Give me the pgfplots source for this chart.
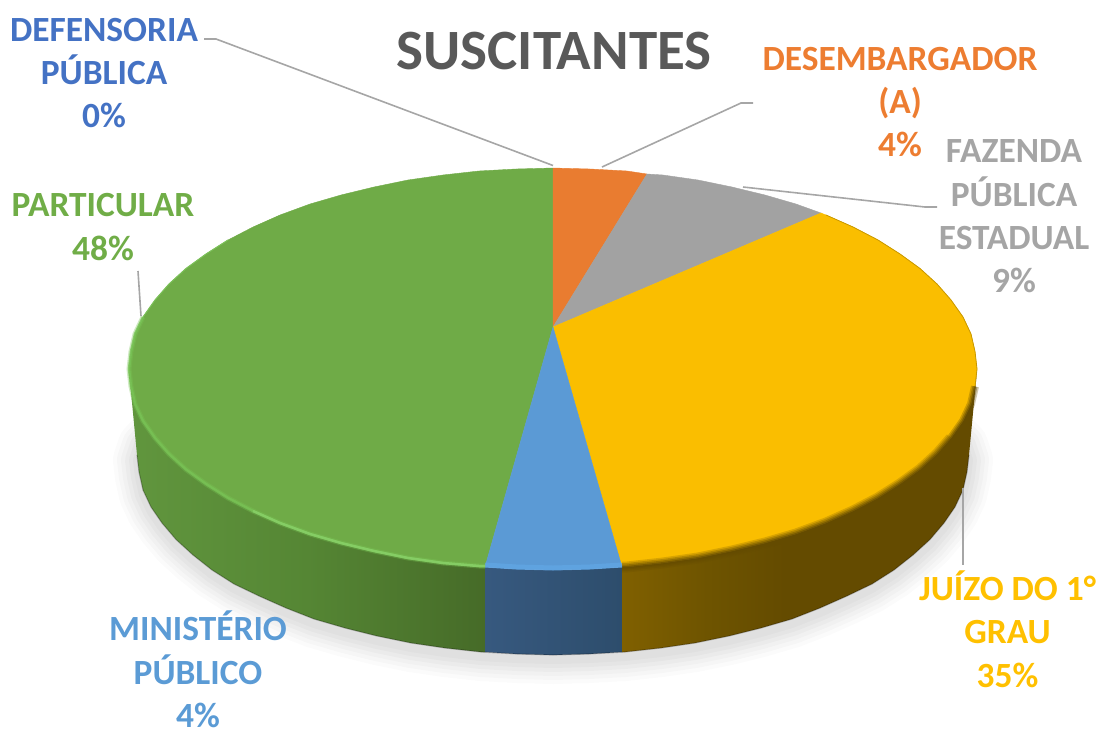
\documentclass[border=0pt]{standalone}
\usepackage{pgfplots}
\pgfplotsset{compat=1.18}
\usepackage{fontspec}
\setmainfont{Carlito}
\definecolor{cDef}{HTML}{4472C4}
\definecolor{cOra}{HTML}{ED7D31}
\definecolor{cGra}{HTML}{A5A5A5}
\definecolor{cYel}{HTML}{FFC000}
\definecolor{cBlu}{HTML}{5B9BD5}
\definecolor{cGre}{HTML}{70AD47}
\definecolor{sOra}{HTML}{E97C30}
\definecolor{sGra}{HTML}{A2A2A2}
\definecolor{sYel}{HTML}{FABE00}
\definecolor{sBlu}{HTML}{5B9AD5}
\definecolor{sGre}{HTML}{6FAB47}
\definecolor{cTit}{HTML}{595959}
\definecolor{cLead}{HTML}{A6A6A6}
\definecolor{bYel}{RGB}{100,75,0}
\definecolor{bBlu}{RGB}{98,168,230}
\definecolor{bGre}{RGB}{120,195,85}
\definecolor{bGr2}{RGB}{140,212,108}
\definecolor{bGr3}{RGB}{124,194,90}
\definecolor{g1}{RGB}{97,150,62}
\definecolor{g2}{RGB}{85,134,52}
\definecolor{g3}{RGB}{70,107,40}
\definecolor{b1}{RGB}{55,89,127}
\definecolor{b2}{RGB}{45,77,108}
\definecolor{y1}{RGB}{128,96,0}
\definecolor{y2}{RGB}{110,84,0}
\definecolor{y3}{RGB}{100,75,0}
\pgfdeclarehorizontalshading{rimg}{100bp}{color(0bp)=(g1);color(25bp)=(g1);color(50bp)=(g2);color(75bp)=(g3);color(100bp)=(g3)}
\pgfdeclarehorizontalshading{rimb}{100bp}{color(0bp)=(b1);color(25bp)=(b1);color(75bp)=(b2);color(100bp)=(b2)}
\pgfdeclarehorizontalshading{rimy}{100bp}{color(0bp)=(y1);color(25bp)=(y1);color(37bp)=(y2);color(48bp)=(y3);color(100bp)=(y3)}
% lower arc of the base of the disc, with the ends tucked under it
\pgfplotstableread{
x y
175 405
142 440
137 455
139 472
143 490
151 507
162 523
176 539.5
193 555
212 570
234 584
259 596
286 608
314 619
345 628
377 636
411 643
445 648
481 652
517 654
553 655
589 654
625 652
661 648
695 643
729 636
761 628
792 619
820 608
847 596
872 584
894 570
913 555
930 539.5
944 523
955 507
963 490
967 472
969 455
964 440
930 405
}\shadowarc
\pgfplotstableread{
x y
137 455
139 472
143 490
151 507
162 523
176 539.5
193 555
212 570
234 584
259 596
286 608
314 619
345 628
377 636
411 643
445 648
481 652
517 654
553 655
589 654
625 652
661 648
695 643
729 636
761 628
792 619
820 608
847 596
872 584
894 570
913 555
930 539.5
944 523
955 507
963 490
967 472
969 455
}\basearc
\pgfplotstableread{
x y
975 386.5
971 404
963 421
951 438
937 454
920 469.5
900 484
878 498
853 511
826 523
796 534
765 543
732 551
698 558
663 563
627 567
622 567
}\yelarc
\pgfplotstableread{
x y
951 438
937 454
920 469.5
900 484
878 498
853 511
826 523
796 534
765 543
732 551
698 558
663 563
627 567
622 567
}\yelarcb
\pgfplotstableread{
x y
143 317
135 334
131 351.5
129 369
131 386.5
135 404
143 421
155 438
169 454
186 469.5
206 484
228 498
253 511
280 523
310 534
341 543
374 551
408 558
443 563
479 566
485 566
}\grearc
\pgfplotstableread{
x y
253 511
280 523
310 534
341 543
374 551
408 558
443 563
479 566
485 566
}\grearcb
\begin{document}
\begin{tikzpicture}
\begin{axis}[
  width=1098pt,height=729pt,scale only axis,
  xmin=0,xmax=1098,ymin=0,ymax=729,y dir=reverse,
  hide axis,clip=false,
  every axis plot/.append style={no markers},
]
% soft shadow
\addplot[draw=black,opacity=0.016,line width=48pt,line join=round,yshift=-5pt] table {\shadowarc};
\addplot[draw=black,opacity=0.018,line width=40pt,line join=round,yshift=-5pt] table {\shadowarc};
\addplot[draw=black,opacity=0.02,line width=32pt,line join=round,yshift=-5pt] table {\shadowarc};
\addplot[draw=black,opacity=0.022,line width=24pt,line join=round,yshift=-5pt] table {\shadowarc};
\addplot[draw=black,opacity=0.022,line width=16pt,line join=round,yshift=-5pt] table {\shadowarc};
\addplot[draw=black,opacity=0.022,line width=8pt,line join=round,yshift=-5pt] table {\shadowarc};
% side of the disc
\addplot[shade,shading=rimg,draw=none] coordinates {(129,371)(131,386.5)(135,404)(143,421)(155,438)(169,454)(186,469.5)(206,484)(228,498)(253,511)(280,523)(310,534)(341,543)(374,551)(408,558)(443,563)(479,567)(485,567)(485,652)(481,652)(445,648)(411,643)(377,636)(345,628)(314,619)(286,608)(259,596)(234,584)(212,570)(193,555)(176,539.5)(162,523)(151,507)(143,490)(139,472)(137,455)};
\addplot[shade,shading=rimb,draw=none] coordinates {(485,567)(516,569)(553,570)(590,569)(622,567)(622,652)(589,654)(553,655)(517,654)(485,652)};
\addplot[shade,shading=rimy,draw=none] coordinates {(622,567)(627,567)(663,563)(698,558)(732,551)(765,543)(796,534)(826,523)(853,511)(878,498)(900,484)(920,469.5)(937,454)(951,438)(963,421)(971,404)(975,386.5)(977,371)(969,455)(967,472)(963,490)(955,507)(944,523)(930,539.5)(913,555)(894,570)(872,584)(847,596)(820,608)(792,619)(761,628)(729,636)(695,643)(661,648)(625,652)(622,652)};
\addplot[draw=black,opacity=0.25,line width=1.2pt] table {\basearc};
% top of the disc
\addplot[fill=sGre,draw=sGre,line width=0.4pt] coordinates {(553,327)(485,567)(479,567)(443,563)(408,558)(374,551)(341,543)(310,534)(280,523)(253,511)(228,498)(206,484)(186,469.5)(169,454)(155,438)(143,421)(135,404)(131,386.5)(129,369)(131,351.5)(135,334)(143,317)(155,300)(169,284)(186,268.5)(206,254)(228,240)(253,227)(280,215)(310,204)(341,195)(374,187)(408,180)(443,175)(479,171)(516,169)(553,168)(553,327)};
\addplot[fill=sOra,draw=sOra,line width=0.4pt] coordinates {(553,327)(553,168)(590,169)(627,171)(647,174)(553,327)};
\addplot[fill=sGra,draw=sGra,line width=0.4pt] coordinates {(553,327)(647,174)(663,175)(698,180)(732,187)(765,195)(796,204)(821,213)(553,327)};
\addplot[fill=sYel,draw=sYel,line width=0.4pt] coordinates {(553,327)(821,213)(826,215)(853,227)(878,240)(900,254)(920,268.5)(937,284)(951,300)(963,317)(971,334)(975,351.5)(977,369)(975,386.5)(971,404)(963,421)(951,438)(937,454)(920,469.5)(900,484)(878,498)(853,511)(826,523)(796,534)(765,543)(732,551)(698,558)(663,563)(627,567)(622,567)(553,327)};
\addplot[fill=sBlu,draw=sBlu,line width=0.4pt] coordinates {(553,327)(622,567)(590,569)(553,570)(516,569)(485,567)(553,327)};
% bevel along the edge of the top
\addplot[draw=sYel!80!black,line width=0.8pt] coordinates {(826,215)(853,227)(878,240)(900,254)(920,268.5)(937,284)(951,300)(963,317)(971,334)(975,351.5)(977,369)(975,386.5)};
\addplot[draw=bYel,opacity=0.22,line width=11pt] table {\yelarcb};
\addplot[draw=bYel,opacity=0.3,line width=8pt] table {\yelarc};
\addplot[draw=bYel,opacity=0.4,line width=5pt] table {\yelarc};
\addplot[draw=bYel,opacity=0.6,line width=2pt] table {\yelarc};
\addplot[draw=bBlu,line width=5pt,opacity=0.7] coordinates {(485,565)(516,567)(553,568)(590,567)(622,565)};
\addplot[draw=bGre,line width=5pt,opacity=0.35] table {\grearc};
\addplot[draw=bGre,line width=2.5pt,opacity=0.8] table {\grearc};
\addplot[draw=bGr2,line width=2.5pt,opacity=0.7] table {\grearcb};
\addplot[draw=bGr3,line width=1pt] coordinates {(143,317)(155,300)(169,284)(186,268.5)(206,254)(228,240)};
% leader lines
\addplot[draw=cLead,line width=1.6pt] coordinates {(204,39)(216,39)(553,165.5)};
\addplot[draw=cLead,line width=1.6pt] coordinates {(138,271)(141,316)};
\addplot[draw=cLead,line width=1.6pt] coordinates {(602,167)(741,103)(753,103)};
\addplot[draw=cLead,line width=1.6pt] coordinates {(743,187)(925,207)(937,207)};
\addplot[draw=cLead,line width=1.6pt] coordinates {(963,488)(963,565)};
% texts
\node[text=cTit,font=\bfseries\fontsize{57}{60}\selectfont,inner sep=0pt] at (axis cs:554,51) {SUSCITANTES};
\node[text=cDef,font=\bfseries\fontsize{35.4}{43.3}\selectfont,align=center,inner sep=0pt] at (axis cs:104,73) {DEFENSORIA\\PÚBLICA\\0\%};
\node[text=cOra,font=\bfseries\fontsize{35.4}{43.3}\selectfont,align=center,inner sep=0pt] at (axis cs:900,102) {DESEMBARGADOR\\(A)\\4\%};
\node[text=cGra,font=\bfseries\fontsize{35.4}{43.3}\selectfont,align=center,inner sep=0pt] at (axis cs:1014,216.5) {FAZENDA\\PÚBLICA\\ESTADUAL\\9\%};
\node[text=cGre,font=\bfseries\fontsize{35.4}{43.3}\selectfont,align=center,inner sep=0pt] at (axis cs:103,227) {PARTICULAR\\48\%};
\node[text=cYel,font=\bfseries\fontsize{35.4}{43.3}\selectfont,align=center,inner sep=0pt] at (axis cs:1007.5,629) {JUÍZO DO 1°\\GRAU\\35\%};
\node[text=cBlu,font=\bfseries\fontsize{35.4}{43.3}\selectfont,align=center,inner sep=0pt] at (axis cs:198,669.5) {MINISTÉRIO\\PÚBLICO\\4\%};
\end{axis}
\pgfresetboundingbox
\useasboundingbox (0,0) rectangle (1098pt,729pt);
\end{tikzpicture}
\end{document}
